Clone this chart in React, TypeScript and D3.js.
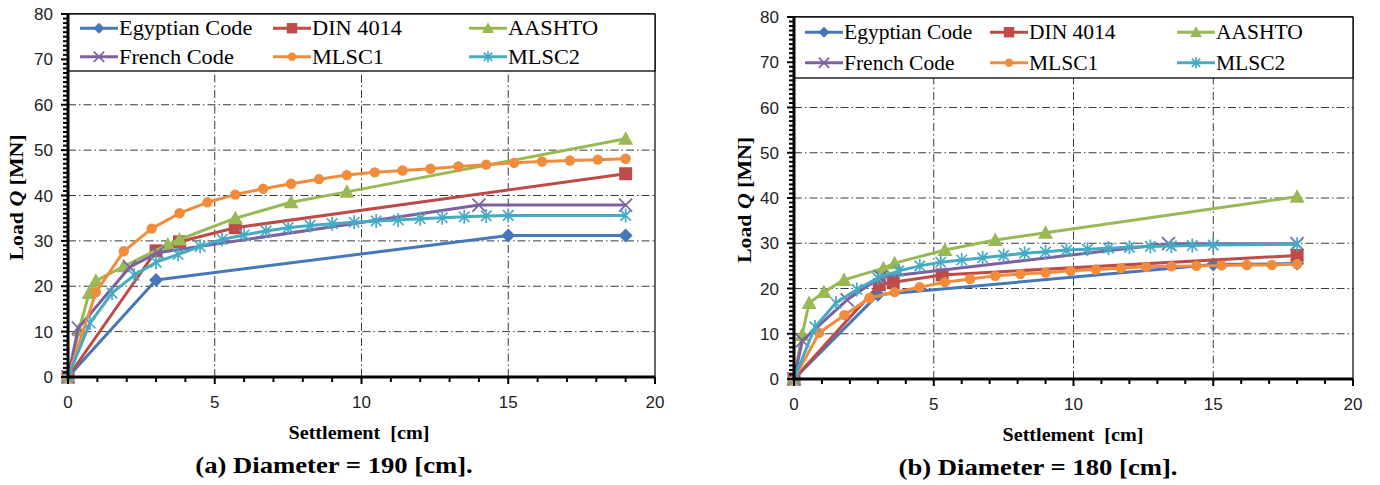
import React from "react";
import * as d3 from "d3";

// ---------- DATA: panel (a) Diameter = 190 cm ----------
const aEgyptX = [0, 3, 15, 19];
const aEgyptY = [0, 21.4, 31.2, 31.2];
const aDinX = [0, 3, 3.8, 5.7, 19];
const aDinY = [0, 27.8, 29.8, 32.9, 44.8];
const aAashtoX = [0, 0.37, 0.72, 0.95, 1.9, 3.4, 3.8, 5.7, 7.6, 9.5, 19];
const aAashtoY = [0, 10.3, 18.5, 21.2, 24.4, 29.2, 30.3, 35.0, 38.5, 40.8, 52.5];
const aFrenchX = [0, 0.35, 2.1, 3.05, 14, 19];
const aFrenchY = [0, 10.8, 24.2, 27.4, 37.9, 37.9];
const aMlsc1X = [0, 0.95, 1.9, 2.85, 3.8, 4.75, 5.7, 6.65, 7.6, 8.55, 9.5, 10.45, 11.4, 12.35, 13.3, 14.25, 15.2, 16.15, 17.1, 18.05, 19];
const aMlsc1Y = [0, 18.7, 27.7, 32.7, 36.1, 38.5, 40.2, 41.5, 42.6, 43.6, 44.5, 45.1, 45.5, 45.9, 46.4, 46.8, 47.2, 47.5, 47.7, 47.9, 48.1];
const aMlsc2X = [0, 0.75, 1.5, 2.25, 3, 3.75, 4.5, 5.25, 6, 6.75, 7.5, 8.25, 9, 9.75, 10.5, 11.25, 12, 12.75, 13.5, 14.25, 15, 19];
const aMlsc2Y = [0, 11.9, 18.5, 22.4, 25.3, 27.0, 28.8, 30.3, 31.3, 32.2, 32.9, 33.4, 33.8, 34.1, 34.4, 34.6, 34.9, 35.1, 35.3, 35.5, 35.6, 35.6];

// ---------- DATA: panel (b) Diameter = 180 cm ----------
const bEgyptX = [0, 3, 15, 18];
const bEgyptY = [0, 18.6, 25.3, 25.5];
const bDinX = [0, 3.05, 3.55, 5.3, 18];
const bDinY = [0, 20.8, 21.4, 23.0, 27.3];
const bAashtoX = [0, 0.29, 0.54, 1.07, 1.79, 3.2, 3.6, 5.4, 7.2, 9.0, 18];
const bAashtoY = [0, 9.7, 16.8, 19.2, 21.9, 24.5, 25.6, 28.5, 30.7, 32.3, 40.3];
const bFrenchX = [0, 0.3, 1.9, 3.1, 13.4, 18];
const bFrenchY = [0, 8.5, 17.5, 22.5, 29.9, 29.9];
const bMlsc1X = [0, 0.9, 1.8, 2.7, 3.6, 4.5, 5.4, 6.3, 7.2, 8.1, 9.0, 9.9, 10.8, 11.7, 12.6, 13.5, 14.4, 15.3, 16.2, 17.1, 18.0];
const bMlsc1Y = [0, 10.2, 14.1, 17.9, 19.2, 20.3, 21.4, 22.1, 22.8, 23.2, 23.5, 23.9, 24.2, 24.5, 24.8, 24.9, 25.0, 25.1, 25.2, 25.2, 25.4];
const bMlsc2X = [0, 0.75, 1.5, 2.25, 3, 3.75, 4.5, 5.25, 6, 6.75, 7.5, 8.25, 9, 9.75, 10.5, 11.25, 12, 12.75, 13.5, 14.25, 15, 18];
const bMlsc2Y = [0, 11.5, 16.8, 19.8, 22.3, 23.9, 25.0, 25.8, 26.3, 26.8, 27.3, 27.8, 28.1, 28.5, 28.7, 28.9, 29.1, 29.3, 29.4, 29.5, 29.6, 29.8];

const seriesNames = ["Egyptian Code", "DIN 4014", "AASHTO", "French Code", "MLSC1", "MLSC2"];
const seriesColors = ["#4677B8", "#BE4B48", "#98B954", "#7D60A0", "#F08C3C", "#46AAC5"];
const seriesMarkers = ["diamond", "square", "triangle", "x", "circle", "asterisk"];

const xTicks = [0, 5, 10, 15, 20];
const yTicks = [0, 10, 20, 30, 40, 50, 60, 70, 80];
const xTitle = "Settlement  [cm]";
const captions = ["(a) Diameter = 190 [cm].", "(b) Diameter = 180 [cm]."];

const panelA = [
  [aEgyptX, aEgyptY], [aDinX, aDinY], [aAashtoX, aAashtoY],
  [aFrenchX, aFrenchY], [aMlsc1X, aMlsc1Y], [aMlsc2X, aMlsc2Y],
];
const panelB = [
  [bEgyptX, bEgyptY], [bDinX, bDinY], [bAashtoX, bAashtoY],
  [bFrenchX, bFrenchY], [bMlsc1X, bMlsc1Y], [bMlsc2X, bMlsc2Y],
];

const serif = "'Liberation Serif', 'Times New Roman', serif";
const sans = "'Liberation Sans', Arial, sans-serif";

function Marker({ type, x, y, color, s = 1 }: any) {
  switch (type) {
    case "diamond": {
      const r = 7 * s;
      return <path d={`M${x},${y - r}L${x + r},${y}L${x},${y + r}L${x - r},${y}Z`} fill={color} />;
    }
    case "square": {
      const h = 6.5 * s;
      return <rect x={x - h} y={y - h} width={2 * h} height={2 * h} fill={color} />;
    }
    case "triangle": {
      const h = 7.5 * s;
      return <path d={`M${x},${y - h}L${x + h},${y + h * 0.8}L${x - h},${y + h * 0.8}Z`} fill={color} />;
    }
    case "circle":
      return <circle cx={x} cy={y} r={5.2 * s} fill={color} />;
    case "x": {
      const h = 6.5 * s;
      return (
        <path d={`M${x - h},${y - h}L${x + h},${y + h}M${x - h},${y + h}L${x + h},${y - h}`} stroke={color} strokeWidth={1.7} fill="none" />
      );
    }
    case "asterisk": {
      const h = 7 * s;
      const d = h * 0.75;
      return (
        <path
          d={`M${x - d},${y - d}L${x + d},${y + d}M${x - d},${y + d}L${x + d},${y - d}M${x},${y - h}L${x},${y + h}`}
          stroke={color}
          strokeWidth={1.7}
          fill="none"
        />
      );
    }
  }
  return null;
}

function Panel({ data, left, right, top, bottom, legendBottom, legendCols, legendSx, caption, captionX, xTitleX, yTitleX }: any) {
  const x = d3.scaleLinear().domain([0, 20]).range([left, right]);
  const y = d3.scaleLinear().domain([0, 80]).range([bottom, top]);
  const line = d3.line<number[]>().x((d) => x(d[0])).y((d) => y(d[1])).curve(d3.curveLinear);
  const minorX = d3.range(0, 21, 1);
  const minorY = d3.range(0, 81, 1);
  const dash = "8,3,1.5,3";
  const rowH = (legendBottom - top) / 2;
  return (
    <g>
      {xTicks.slice(1, -1).map((t) => (
        <line key={"gx" + t} x1={x(t)} x2={x(t)} y1={bottom} y2={top} stroke="#3a3a3a" strokeWidth={1} strokeDasharray={dash} />
      ))}
      {yTicks.slice(1, -1).map((t) => (
        <line key={"gy" + t} x1={left} x2={right} y1={y(t)} y2={y(t)} stroke="#3a3a3a" strokeWidth={1} strokeDasharray={dash} />
      ))}
      <line x1={right} x2={right} y1={top} y2={bottom} stroke="#000" strokeWidth={1.2} />
      <line x1={left} x2={right} y1={top} y2={top} stroke="#000" strokeWidth={1.5} />
      {data.map((s: number[][], i: number) => {
        const pts = s[0].map((v, j) => [v, s[1][j]]);
        return (
          <g key={"s" + i}>
            <path d={line(pts) || ""} fill="none" stroke={seriesColors[i]} strokeWidth={3} strokeLinejoin="round" />
            {pts.map((p, j) => (
              <Marker key={j} type={seriesMarkers[i]} x={x(p[0])} y={y(p[1])} color={seriesColors[i]} />
            ))}
          </g>
        );
      })}
      <rect x={left} y={top} width={right - left} height={legendBottom - top} fill="#fff" stroke="#000" strokeWidth={1.3} />
      {seriesNames.map((n, i) => {
        const col = i % 3;
        const row = Math.floor(i / 3);
        const lx = legendCols[col];
        const ly = top + rowH * 0.5 + row * rowH;
        return (
          <g key={"l" + i}>
            <line x1={lx} x2={lx + 38} y1={ly} y2={ly} stroke={seriesColors[i]} strokeWidth={3} />
            <Marker type={seriesMarkers[i]} x={lx + 19} y={ly} color={seriesColors[i]} s={0.8} />
            <text transform={`translate(${lx + 39},${ly + 7}) scale(${legendSx},1)`} fontFamily={serif} fontSize={21.5} fill="#000">
              {n}
            </text>
          </g>
        );
      })}
      <line x1={left} x2={right} y1={bottom} y2={bottom} stroke="#000" strokeWidth={3} />
      <line x1={left} x2={left} y1={bottom + 1.5} y2={top - 1} stroke="#000" strokeWidth={3} />
      {minorX.map((t) => (
        <line key={"mx" + t} x1={x(t)} x2={x(t)} y1={bottom} y2={bottom + (t % 5 === 0 ? 7 : 5)} stroke="#000" strokeWidth={2} />
      ))}
      {minorY.map((t) => (
        <line key={"my" + t} x1={left} x2={left - (t % 10 === 0 ? 7 : 5)} y1={y(t)} y2={y(t)} stroke="#000" strokeWidth={2} />
      ))}
      {xTicks.map((t) => (
        <text key={"xt" + t} x={x(t)} y={bottom + 31} textAnchor="middle" fontFamily={sans} fontSize={17} fill="#222">
          {t}
        </text>
      ))}
      {yTicks.map((t) => (
        <text key={"yt" + t} x={left - 15} y={y(t) + 6} textAnchor="end" fontFamily={sans} fontSize={17} fill="#222">
          {t}
        </text>
      ))}
      <text
        transform={`translate(${xTitleX},${bottom + 62}) scale(1.12,1)`}
        textAnchor="middle"
        fontFamily={serif}
        fontWeight="bold"
        fontSize={18}
        fill="#000"
        style={{ whiteSpace: "pre" }}
      >
        {xTitle}
      </text>
      <text
        transform={`translate(${yTitleX},${(top + bottom) / 2 + 2}) rotate(-90) scale(1.15,1)`}
        textAnchor="middle"
        fontFamily={serif}
        fontWeight="bold"
        fontSize={19}
        fill="#000"
      >
        <tspan>Load </tspan>
        <tspan fontStyle="italic">Q</tspan>
        <tspan> [MN]</tspan>
      </text>
      <text
        transform={`translate(${captionX},${bottom + 96}) scale(1.16,1)`}
        textAnchor="middle"
        fontFamily={serif}
        fontWeight="bold"
        fontSize={23}
        fill="#000"
      >
        {caption}
      </text>
    </g>
  );
}

export default function App() {
  return (
    <svg width={1380} height={485} style={{ position: "absolute", left: 0, top: 0, background: "#fff" }}>
      <rect width={1380} height={485} fill="#fff" />
      <Panel
        data={panelA}
        left={68}
        right={655}
        top={14}
        bottom={377}
        legendBottom={71}
        legendCols={[80, 273, 469]}
        legendSx={1.04}
        caption={captions[0]}
        captionX={334}
        xTitleX={359}
        yTitleX={23}
      />
      <Panel
        data={panelB}
        left={794}
        right={1353}
        top={17}
        bottom={379}
        legendBottom={78}
        legendCols={[805, 990, 1177]}
        legendSx={1.0}
        caption={captions[1]}
        captionX={1038}
        xTitleX={1073}
        yTitleX={751}
      />
    </svg>
  );
}
